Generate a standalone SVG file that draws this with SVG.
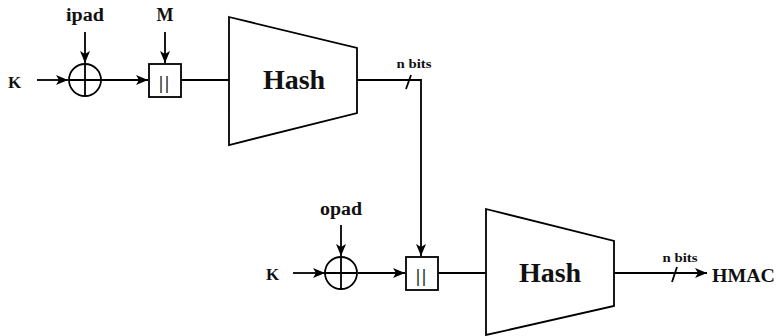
<svg xmlns="http://www.w3.org/2000/svg" width="776" height="336" viewBox="0 0 776 336">
<style>
.t{font-family:"Liberation Serif","Times New Roman",serif;font-weight:bold;fill:#111}
.ln{stroke:#000;stroke-width:1.8;fill:none}
.sh{stroke:#000;stroke-width:1.8;fill:#fff}
</style>
<defs>
<marker id="ah" markerUnits="userSpaceOnUse" markerWidth="14" markerHeight="12" refX="12" refY="5" orient="auto">
<path d="M0,0 L12,5 L0,10 L3,5 Z" fill="#000"/>
</marker>
</defs>
<rect width="776" height="336" fill="#fff"/>
<g id="connectors">
<path class="ln" d="M37,80 H68" marker-end="url(#ah)"/>
<path class="ln" d="M85,32 V63" marker-end="url(#ah)"/>
<path class="ln" d="M101,80 H148" marker-end="url(#ah)"/>
<path class="ln" d="M165,32 V63" marker-end="url(#ah)"/>
<path class="ln" d="M181,80 H229"/>
<path class="ln" d="M357,80 H421 V256" marker-end="url(#ah)"/>
<path class="ln" d="M406,89 L411,75"/>
<path class="ln" d="M293,273 H325" marker-end="url(#ah)"/>
<path class="ln" d="M341,225 V256" marker-end="url(#ah)"/>
<path class="ln" d="M358,273 H405" marker-end="url(#ah)"/>
<path class="ln" d="M438,273 H486"/>
<path class="ln" d="M614,273 H707" marker-end="url(#ah)"/>
<path class="ln" d="M672,282 L677,267"/>
</g>
<g id="k1"><text class="t" x="8" y="88" font-size="17">K</text></g>
<g id="ipad"><text class="t" x="85" y="21" font-size="18" text-anchor="middle" textLength="38" lengthAdjust="spacingAndGlyphs">ipad</text></g>
<g id="xor1"><circle class="sh" cx="85" cy="80" r="16"/><path class="ln" d="M69,80 H101 M85,64 V96"/></g>
<g id="m"><text class="t" x="165" y="21" font-size="18" text-anchor="middle">M</text></g>
<g id="concat1"><rect class="sh" x="149" y="64" width="32" height="33"/><text class="t" x="165" y="89" font-size="18" text-anchor="middle" letter-spacing="2">||</text></g>
<g id="hash1"><path class="sh" d="M229,17 L357,48 L357,113 L229,145 Z"/><text class="t" x="294" y="89" font-size="28" text-anchor="middle">Hash</text></g>
<g id="nbits1"><text class="t" x="414" y="68" font-size="13" text-anchor="middle" textLength="35" lengthAdjust="spacingAndGlyphs">n bits</text></g>
<g id="k2"><text class="t" x="266" y="280" font-size="17">K</text></g>
<g id="opad"><text class="t" x="341" y="215" font-size="18" text-anchor="middle" textLength="42" lengthAdjust="spacingAndGlyphs">opad</text></g>
<g id="xor2"><circle class="sh" cx="341" cy="273" r="16"/><path class="ln" d="M325,273 H357 M341,257 V289"/></g>
<g id="concat2"><rect class="sh" x="406" y="257" width="32" height="33"/><text class="t" x="422" y="282" font-size="18" text-anchor="middle" letter-spacing="2">||</text></g>
<g id="hash2"><path class="sh" d="M486,209 L614,241 L614,306 L486,335 Z"/><text class="t" x="550" y="282" font-size="28" text-anchor="middle">Hash</text></g>
<g id="nbits2"><text class="t" x="680" y="262" font-size="13" text-anchor="middle" textLength="35" lengthAdjust="spacingAndGlyphs">n bits</text></g>
<g id="hmac"><text class="t" x="712" y="282" font-size="18" textLength="63" lengthAdjust="spacingAndGlyphs">HMAC</text></g>
</svg>
